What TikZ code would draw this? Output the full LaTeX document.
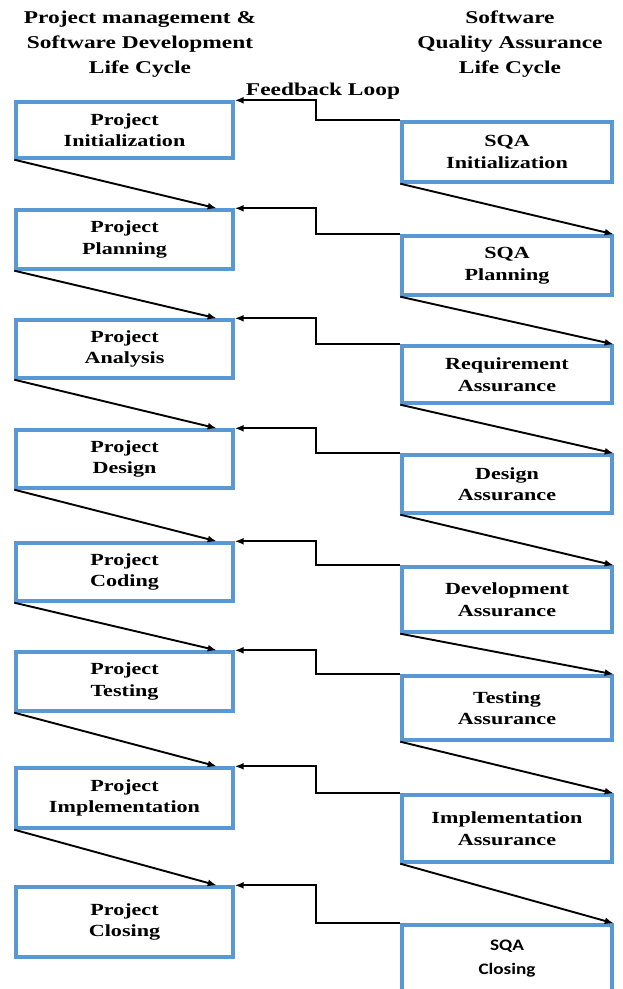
\documentclass[tikz,border=0pt]{standalone}
\usepackage{fontspec}
\setmainfont{Liberation Serif}[FakeStretch=1.3]
\newfontfamily\sqasans{Carlito}[FakeStretch=1.2]
\usepackage{tikz}
\usetikzlibrary{arrows.meta}
\definecolor{boxblue}{RGB}{88,152,212}
\tikzset{
  stage/.style={shape=rectangle,draw=boxblue,align=center,line width=3.4pt,inner sep=0pt,font=\bfseries\fontsize{17}{21.5}\selectfont},
  lstage/.style={stage,minimum width=217pt},
  rstage/.style={stage,minimum width=210pt},
  heading/.style={align=center,font=\bfseries\fontsize{18}{25}\selectfont},
  flow/.style={draw=black,line width=1.9pt,-{Latex[length=9pt,width=7pt]}}
}

\begin{document}
\begin{tikzpicture}[x=1pt,y=-1pt]\useasboundingbox (0,0) rectangle (622,989);
\node[heading] (16) at (140,44) {Project management \&\\Software Development\\Life Cycle};
\node[heading] (17) at (510,44) {Software\\Quality Assurance\\Life Cycle};
\node[heading] (18) at (323,91) {Feedback Loop};
\node[lstage,minimum height=56pt] (0) at (124.5,130) {Project\\Initialization};
\node[lstage,minimum height=59pt] (1) at (124.5,239.5) {Project\\Planning};
\node[lstage,minimum height=58pt] (2) at (124.5,349) {Project\\Analysis};
\node[lstage,minimum height=58pt] (3) at (124.5,459) {Project\\Design};
\node[lstage,minimum height=58pt] (4) at (124.5,572) {Project\\Coding};
\node[lstage,minimum height=59pt] (5) at (124.5,681.5) {Project\\Testing};
\node[lstage,minimum height=60pt] (6) at (124.5,798) {Project\\Implementation};
\node[lstage,minimum height=70pt] (7) at (124.5,922) {Project\\Closing};
\node[rstage,minimum height=60pt] (8) at (507,152) {SQA\\Initialization};
\node[rstage,minimum height=59pt] (9) at (507,265.5) {SQA\\Planning};
\node[rstage,minimum height=57pt] (10) at (507,374.5) {Requirement\\Assurance};
\node[rstage,minimum height=58pt] (11) at (507,484) {Design\\Assurance};
\node[rstage,minimum height=65pt] (12) at (507,599.5) {Development\\Assurance};
\node[rstage,minimum height=64pt] (13) at (507,708) {Testing\\Assurance};
\node[rstage,minimum height=67pt] (14) at (507,828.5) {Implementation\\Assurance};
\node[rstage,minimum height=67pt,font=\sqasans\bfseries\fontsize{16}{24}\selectfont] (15) at (507,958.5) {SQA\\Closing};

% feedback from each SQA stage back to its project stage
\draw[flow] (8.north west) -- ++(-84,0) |- (0.north east);
\draw[flow] (9.north west) -- ++(-84,0) |- (1.north east);
\draw[flow] (10.north west) -- ++(-84,0) |- (2.north east);
\draw[flow] (11.north west) -- ++(-84,0) |- (3.north east);
\draw[flow] (12.north west) -- ++(-84,0) |- (4.north east);
\draw[flow] (13.north west) -- ++(-84,0) |- (5.north east);
\draw[flow] (14.north west) -- ++(-84,0) |- (6.north east);
\draw[flow] (15.north west) -- ++(-84,0) |- (7.north east);

% project stages
\draw[flow] (0.south west) -- ([xshift=-18pt]1.north east);
\draw[flow] (1.south west) -- ([xshift=-18pt]2.north east);
\draw[flow] (2.south west) -- ([xshift=-18pt]3.north east);
\draw[flow] (3.south west) -- ([xshift=-18pt]4.north east);
\draw[flow] (4.south west) -- ([xshift=-18pt]5.north east);
\draw[flow] (5.south west) -- ([xshift=-18pt]6.north east);
\draw[flow] (6.south west) -- ([xshift=-18pt]7.north east);

% SQA stages
\draw[flow] (8.south west) -- (9.north east);
\draw[flow] (9.south west) -- (10.north east);
\draw[flow] (10.south west) -- (11.north east);
\draw[flow] (11.south west) -- (12.north east);
\draw[flow] (12.south west) -- (13.north east);
\draw[flow] (13.south west) -- (14.north east);
\draw[flow] (14.south west) -- (15.north east);

\end{tikzpicture}
\end{document}
